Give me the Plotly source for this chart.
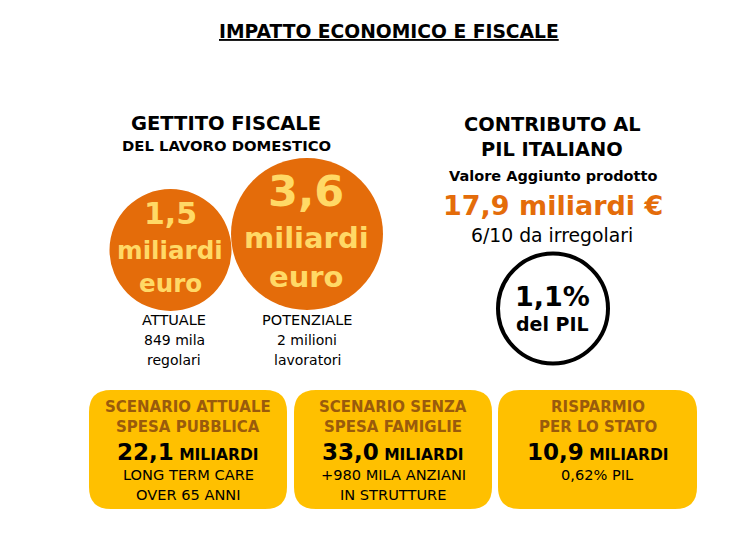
import plotly.graph_objects as go

# text and values
title = "IMPATTO ECONOMICO E FISCALE"
left_head = ["GETTITO FISCALE", "DEL LAVORO DOMESTICO"]
right_head = ["CONTRIBUTO AL", "PIL ITALIANO"]
valore_label = "Valore Aggiunto prodotto"
valore = "17,9 miliardi €"
irregolari = "6/10 da irregolari"
pil_share = ["1,1%", "del PIL"]
gettito = ["1,5", "3,6"]
gettito_unit = ["miliardi", "euro"]
gettito_names = ["ATTUALE", "POTENZIALE"]
gettito_notes = [["849 mila", "regolari"], ["2 milioni", "lavoratori"]]
box_heads = [["SCENARIO ATTUALE", "SPESA PUBBLICA"], ["SCENARIO SENZA", "SPESA FAMIGLIE"], ["RISPARMIO", "PER LO STATO"]]
box_values = ["22,1", "33,0", "10,9"]
box_unit = "MILIARDI"
box_notes = [["LONG TERM CARE", "OVER 65 ANNI"], ["+980 MILA ANZIANI", "IN STRUTTURE"], ["0,62% PIL"]]

ORANGE = "#E46C0A"
YELLOW = "#FFD966"
BOX = "#FFC000"
BROWN = "#9A5B0C"
FONT = "DejaVu Sans"

fig = go.Figure()


def label(x, y, text, size, color="black", bold=False):
    if bold:
        text = "<b>" + text + "</b>"
    fig.add_annotation(x=x, y=y, text=text, showarrow=False, xanchor="center", yanchor="middle",
                       font=dict(family=FONT, size=size, color=color))


def circle(cx, cy, r, fill, line=None, lw=0):
    fig.add_shape(type="circle", x0=cx - r, x1=cx + r, y0=cy - r, y1=cy + r,
                  fillcolor=fill, line=dict(color=line or fill, width=lw), layer="below")


def round_box(x0, y0, x1, y1, r):
    path = (f"M {x0+r} {y0} L {x1-r} {y0} Q {x1} {y0} {x1} {y0+r} L {x1} {y1-r} Q {x1} {y1} {x1-r} {y1} "
            f"L {x0+r} {y1} Q {x0} {y1} {x0} {y1-r} L {x0} {y0+r} Q {x0} {y0} {x0+r} {y0} Z")
    fig.add_shape(type="path", path=path, fillcolor=BOX, line=dict(width=0), layer="below")


label(389, 31, "<u>" + title + "</u>", 18.7, bold=True)

# left block
label(226, 123, left_head[0], 19.5, bold=True)
label(226, 145, left_head[1], 14.8, bold=True)
circle(170.5, 250, 61, ORANGE)
circle(307, 234, 76, ORANGE)
label(170.5, 213, gettito[0], 30, YELLOW, True)
label(170, 250, gettito_unit[0], 24.6, YELLOW, True)
label(170, 283, gettito_unit[1], 24.6, YELLOW, True)
label(306, 191, gettito[1], 43, YELLOW, True)
label(306, 238, gettito_unit[0], 29, YELLOW, True)
label(306, 277, gettito_unit[1], 29, YELLOW, True)
for cx, name, notes in zip([174, 307], gettito_names, gettito_notes):
    label(cx, 320, name, 14.5)
    label(cx, 340, notes[0], 14)
    label(cx, 360, notes[1], 14)

# right block
label(552, 124, right_head[0], 19.4, bold=True)
label(552, 149, right_head[1], 19.4, bold=True)
label(553, 176, valore_label, 14.5, bold=True)
label(553, 205, valore, 27, ORANGE, True)
label(552, 235, irregolari, 18.8)
circle(553, 308.5, 55, "white", "black", 4)
label(552, 296, pil_share[0], 27, bold=True)
label(552, 324, pil_share[1], 19, bold=True)

# scenario boxes
for i, (x0, x1) in enumerate([(89, 287), (294, 492), (498, 697)]):
    cx = (x0 + x1) / 2
    round_box(x0, 390, x1, 509, 22)
    label(cx, 407, box_heads[i][0], 15, BROWN, True)
    label(cx, 427, box_heads[i][1], 15, BROWN, True)
    label(cx, 452, f'<b>{box_values[i]}</b><b><span style="font-size:15.5px"> {box_unit}</span></b>', 23)
    for j, note in enumerate(box_notes[i]):
        label(cx, 474 + 20 * j, note, 14.6)

# the page body has an 8px margin, so the axes start at 8
fig.update_xaxes(range=[8, 756], visible=False, fixedrange=True)
fig.update_yaxes(range=[534, 8], visible=False, fixedrange=True)
fig.update_layout(width=748, height=526, margin=dict(l=0, r=0, t=0, b=0),
                  paper_bgcolor="white", plot_bgcolor="white", showlegend=False)
fig.write_html("out.html")
